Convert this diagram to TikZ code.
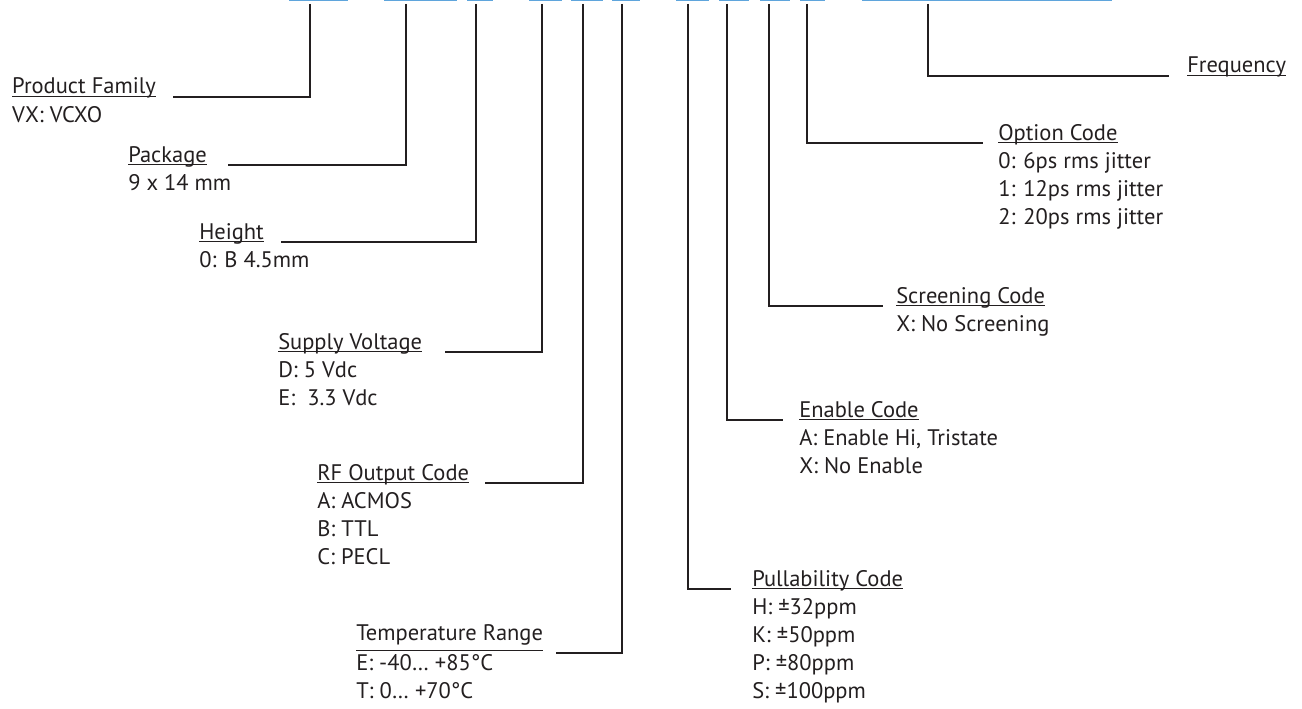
\documentclass[tikz,border=0pt]{standalone}
\usepackage{fontspec}
\setmainfont{PT Sans}
\usetikzlibrary{calc,positioning}
\definecolor{ink}{HTML}{231F20}
\definecolor{codeblue}{RGB}{95,165,220}
\tikzset{every picture/.style={line width=2.5pt}}
\tikzset{
    lead/.style={draw=ink},
    codebox/.style={draw=codeblue, line width=1.5pt},
    title/.style={inner sep=0pt, anchor=base west, text=ink, font=\fontsize{22.5}{28}\selectfont},
    values/.style={title},
}
\newcommand{\vals}[1]{\begin{tabular}[t]{@{}l@{}}#1\end{tabular}}
\newcommand{\ulbar}[2][3.2pt]{\setbox0\hbox{#2}\rlap{\rule[-#1]{\wd0}{1.2pt}}\box0}

\begin{document}
\begin{tikzpicture}[x=1pt, y=-1pt]
    \useasboundingbox (0,0) rectangle (1302,709);
    \draw[codebox] (290,-30) rectangle (347,0.5)
        (385,-30) rectangle (456,0.5)
        (468,-30) rectangle (492,0.5)
        (530,-30) rectangle (561,0.5)
        (572,-30) rectangle (602,0.5)
        (613,-30) rectangle (639,0.5)
        (677,-30) rectangle (708,0.5)
        (720,-30) rectangle (748,0.5)
        (761,-30) rectangle (789,0.5)
        (801,-30) rectangle (824,0.5)
        (863,-30) rectangle (1111,0.5);

    \coordinate (family top) at (310,4);
    \coordinate (package top) at (406,4);
    \coordinate (height top) at (476,4);
    \coordinate (supply top) at (542,4);
    \coordinate (output top) at (583,4);
    \coordinate (temp top) at (622,4);
    \coordinate (pull top) at (688,4);
    \coordinate (enable top) at (727,4);
    \coordinate (screen top) at (769,4);
    \coordinate (option top) at (807,4);
    \coordinate (freq top) at (928,4);

    \node[title] (family) at (11,94) {\ulbar{Product Family}};
    \node[values] (family v) at ($(family.base west)+(0,28)$) {VX: VCXO};
    \node[title] (package) at (127,162) {\ulbar{Package}};
    \node[values] (package v) at ($(package.base west)+(0,28)$) {9 x 14 mm};
    \node[title] (height) at (198,239) {\ulbar{Height}};
    \node[values] (height v) at ($(height.base west)+(0,28)$) {0: B 4.5mm};
    \node[title] (supply) at (277,349) {\ulbar{Supply Voltage}};
    \node[values] (supply v) at ($(supply.base west)+(0,28)$) {\vals{D: 5 Vdc\\E:~~3.3 Vdc}};
    \node[title] (output) at (316,480) {\ulbar{RF Output Code}};
    \node[values] (output v) at ($(output.base west)+(0,28)$) {\vals{A: ACMOS\\B: TTL\\C: PECL}};
    \node[title] (temp) at (355,640) {\ulbar[11pt]{Temperature Range}};
    \node[values] (temp v) at ($(temp.base west)+(0,30)$) {\vals{E: -40\dots\ +85°C\\T: 0\dots\ +70°C}};
    \node[title] (pull) at (751,586) {\ulbar{Pullability Code}};
    \node[values] (pull v) at ($(pull.base west)+(0,28)$) {\vals{H: ±32ppm\\K: ±50ppm\\P: ±80ppm\\S: ±100ppm}};
    \node[title] (enable) at (798,417) {\ulbar{Enable Code}};
    \node[values] (enable v) at ($(enable.base west)+(0,28)$) {\vals{A: Enable Hi, Tristate\\X: No Enable}};
    \node[title] (screen) at (895,303) {\ulbar{Screening Code}};
    \node[values] (screen v) at ($(screen.base west)+(0,28)$) {X: No Screening};
    \node[title] (option) at (997,140) {\ulbar{Option Code}};
    \node[values] (option v) at ($(option.base west)+(0,28)$) {\vals{0: 6ps rms jitter\\1: 12ps rms jitter\\2: 20ps rms jitter}};
    \node[title] (freq) at (1186,73) {\ulbar{Frequency}};

    \draw[lead] (family top) |- ($(family.base east)+(16,3)$);
    \draw[lead] (package top) |- ($(package.base east)+(20,3)$);
    \draw[lead] (height top) |- ($(height.base east)+(16,3)$);
    \draw[lead] (supply top) |- ($(supply.base east)+(22,3)$);
    \draw[lead] (output top) |- ($(output.base east)+(15,3)$);
    \draw[lead] (temp top) |- ($(temp.base east)+(12,13)$);
    \draw[lead] (pull top) |- ($(pull.base west)+(-20,3)$);
    \draw[lead] (enable top) |- ($(enable.base west)+(-15,3)$);
    \draw[lead] (screen top) |- ($(screen.base west)+(-12,3)$);
    \draw[lead] (option top) |- ($(option.base west)+(-14,3)$);
    \draw[lead] (freq top) |- ($(freq.base west)+(-17,3)$);
\end{tikzpicture}
\end{document}
